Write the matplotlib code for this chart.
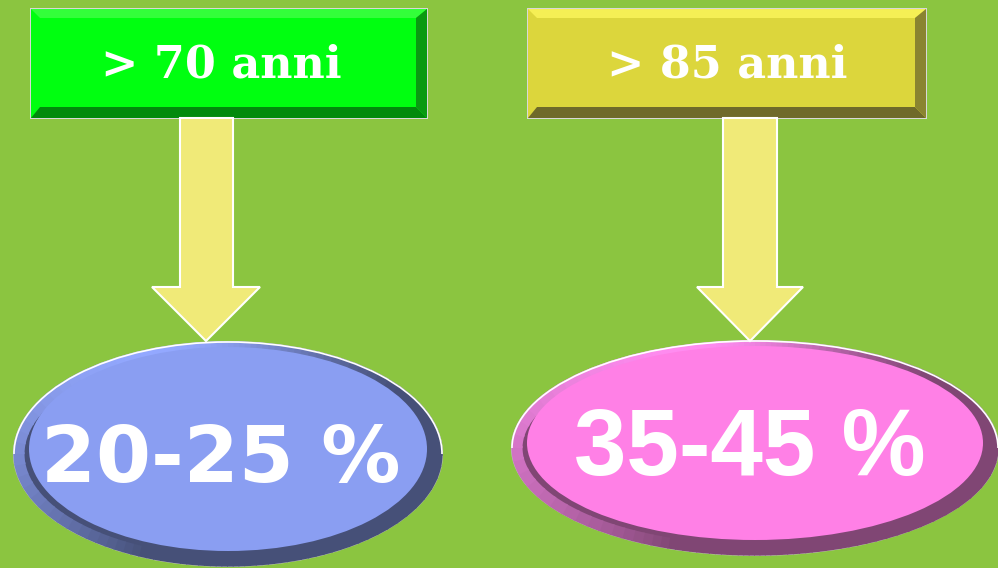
"""
Two age groups with arrows pointing down to their percentage range.
"""

import numpy as np
import matplotlib.pyplot as plt
from matplotlib.colors import to_rgb
from matplotlib.patches import Polygon, Ellipse, Rectangle, Arc

# data
age_groups = ["> 70 anni", "> 85 anni"]
ranges = ["20-25 %", "35-45 %"]
box_colors = ["#00ff10", "#dcd63c"]
box_light = ["#33ff3a", "#f5ef55"]
box_dark = ["#028a0c", "#6f6a2a"]
box_side = ["#0a9a12", "#8a8430"]
ell_colors = ["#8a9ef2", "#ff80e6"]
ell_dark = ["#465078", "#804674"]
ell_light = ["#93a8ff", "#ff8cf0"]
range_fonts = ["DejaVu Sans", "Liberation Sans"]

BG = "#8bc540"
ARROW = "#f0ea78"

fig = plt.figure(figsize=(9.98, 5.68), dpi=100)
fig.patch.set_facecolor(BG)
ax = fig.add_axes([0, 0, 1, 1])
ax.set_xlim(0, 998)
ax.set_ylim(568, 0)
ax.axis("off")

boxes = [(31, 9, 427, 118), (528, 9, 926, 118)]
arrows = [(206, 180, 233, 152, 260), (750, 723, 777, 697, 803)]
ells = [(228, 454, 428, 224), (755, 448, 486, 214)]
box_text_x = [221, 727]
range_xy = [(221, 460), (750, 451)]
range_size = [57, 68]


def bevel_box(x0, y0, x1, y1, c, light, dark, side, b=9, b2=11):
    ax.add_patch(Rectangle((x0 - 1, y0 - 1), x1 - x0 + 2, y1 - y0 + 2,
                           facecolor="#d8d8d8", edgecolor="none", zorder=1))
    ax.add_patch(Rectangle((x0, y0), x1 - x0, y1 - y0, facecolor=c,
                           edgecolor="none", zorder=2))
    # top bevel
    ax.add_patch(Polygon([(x0, y0), (x1, y0), (x1 - b2, y0 + b), (x0 + b, y0 + b)],
                         closed=True, facecolor=light, edgecolor="none", zorder=3))
    # bottom bevel
    ax.add_patch(Polygon([(x0, y1), (x0 + b, y1 - b2), (x1 - b2, y1 - b2), (x1, y1)],
                         closed=True, facecolor=dark, edgecolor="none", zorder=3))
    # right bevel
    ax.add_patch(Polygon([(x1, y0), (x1 - b2, y0 + b), (x1 - b2, y1 - b2), (x1, y1)],
                         closed=True, facecolor=side, edgecolor="none", zorder=3))


def shaded_rim(cx, cy, w, h, light, dark):
    # rim colour blends from light (upper left) to dark (lower right)
    # y axis is inverted, so 240 degrees points to the upper left
    lc, dc = np.array(to_rgb(light)), np.array(to_rgb(dark))
    step = 3
    for a in range(0, 360, step):
        t = (1 - np.cos(np.radians(a + step / 2 - 235))) / 2
        t = min(1.0, t * 1.6)
        col = lc * (1 - t) + dc * t
        ax.add_patch(Arc((cx, cy), w - 10, h - 10, theta1=a, theta2=a + step + 0.5,
                         edgecolor=col, linewidth=8, zorder=2.5))


for i, label in enumerate(age_groups):
    x0, y0, x1, y1 = boxes[i]
    bevel_box(x0, y0, x1, y1, box_colors[i], box_light[i], box_dark[i], box_side[i])
    ax.text(box_text_x[i], (y0 + y1) / 2 + 2, label, color="white",
            fontsize=32, fontweight="bold", family="DejaVu Serif",
            ha="center", va="center", zorder=5)

    # arrow
    tip, s0, s1, h0, h1 = arrows[i]
    pts = [(s0, y1), (s1, y1), (s1, 287), (h1, 287), (tip, 341),
           (h0, 287), (s0, 287)]
    ax.add_patch(Polygon(pts, closed=True, facecolor=ARROW, edgecolor="white",
                         linewidth=1.5, zorder=4))

    # ellipse with a shaded rim, thicker at the bottom
    cx, cy, w, h = ells[i]
    ax.add_patch(Ellipse((cx, cy), w, h, facecolor=ell_dark[i],
                         edgecolor="#c0c0c0", linewidth=1.5, zorder=2))
    shaded_rim(cx, cy, w, h, ell_light[i], ell_dark[i])
    ax.add_patch(Ellipse((cx, cy - 5), w - 30, h - 20,
                         facecolor=ell_colors[i], edgecolor="none", zorder=3))
    ax.add_patch(Arc((cx, cy), w, h, theta1=180, theta2=360,
                     edgecolor="white", linewidth=1.2, zorder=3))

    rx, ry = range_xy[i]
    ax.text(rx, ry, ranges[i], color="white", fontsize=range_size[i],
            fontweight="bold", family=range_fonts[i],
            ha="center", va="center", zorder=5)

fig.savefig("out.png", dpi=100, facecolor=BG)
